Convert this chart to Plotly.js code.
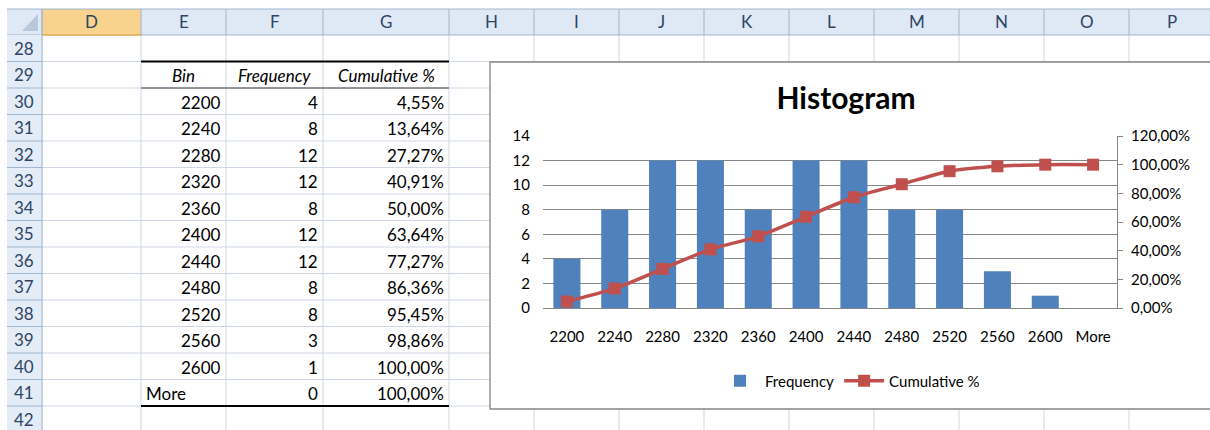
<!DOCTYPE html>
<html>
<head>
<meta charset="utf-8">
<script src="https://cdn.plot.ly/plotly-3.0.1.min.js"></script>
<style>html,body{margin:0;padding:0;background:#fff;}#chart{width:1210px;height:430px;}</style>
</head>
<body>
<div id="chart"></div>
<script>
// ---- data ----
const bins = ['2200','2240','2280','2320','2360','2400','2440','2480','2520','2560','2600','More'];
const frequency = [4, 8, 12, 12, 8, 12, 12, 8, 8, 3, 1, 0];
const cumulative = [0.0455, 0.1364, 0.2727, 0.4091, 0.5000, 0.6364, 0.7727, 0.8636, 0.9545, 0.9886, 1.0000, 1.0000];
const columnLetters = ['D','E','F','G','H','I','J','K','L','M','N','O','P'];
const rowNumbers = ['28','29','30','31','32','33','34','35','36','37','38','39','40','41','42'];
const tableHeaders = ['Bin','Frequency','Cumulative %'];
const chartTitle = 'Histogram';

// ---- geometry helpers (pixels -> paper) ----
const W = 1210, H = 430;
const X = px => px / W;
const Y = py => 1 - py / H;
const colEdges = [42,141,226,323,449,534,619,704,789,874,959,1044,1129,1214];
const rowTop = 35, rowH = 26.5, headTop = 9, leftEdge = 7;
const rowEdge = k => rowTop + k * rowH;
const FONT = 'Lato, "Open Sans", sans-serif';

const shapes = [];
const annotations = [];
function rect(x0,y0,x1,y1,fill,lineColor,lw){
  shapes.push({type:'rect',xref:'paper',yref:'paper',x0:X(x0),x1:X(x1),y0:Y(y1),y1:Y(y0),
    fillcolor:fill,line:{color:lineColor||'rgba(0,0,0,0)',width:lw||0},layer:'below'});
}
function line(x0,y0,x1,y1,color,w){
  shapes.push({type:'line',xref:'paper',yref:'paper',x0:X(x0),x1:X(x1),y0:Y(y0),y1:Y(y1),
    line:{color:color,width:w},layer:'below'});
}
function text(t,x,y,anchor,opts){
  opts = opts || {};
  annotations.push({text:t,xref:'paper',yref:'paper',x:X(x),y:Y(y),xanchor:anchor,yanchor:'middle',
    showarrow:false,font:{family:FONT,size:opts.size||17,color:opts.color||'#000'}});
}

// cell gridlines
for (let i = 0; i < colEdges.length; i++) line(colEdges[i], rowTop, colEdges[i], H, '#D0D7E5', 1);
for (let k = 1; k <= rowNumbers.length; k++) line(colEdges[0], rowEdge(k), W, rowEdge(k), '#D0D7E5', 1);

// header band
rect(leftEdge, headTop, W, rowTop, '#DFE8F5');
rect(colEdges[0], headTop, colEdges[1], rowTop, '#F9D38E');
line(leftEdge, headTop, W, headTop, '#9EB6CE', 1);
line(leftEdge, rowTop, W, rowTop, '#9EB6CE', 1);
line(colEdges[0], rowTop, colEdges[1], rowTop, '#F2B24E', 1.5);
for (let i = 0; i < colEdges.length; i++) line(colEdges[i], headTop, colEdges[i], rowTop, '#9EB6CE', 1);
// corner triangle
shapes.push({type:'path',xref:'paper',yref:'paper',
  path:`M ${X(38)} ${Y(31)} L ${X(38)} ${Y(14)} L ${X(22)} ${Y(31)} Z`,
  fillcolor:'#B9C7DA',line:{width:0},layer:'below'});
// row header column
rect(leftEdge, rowTop, colEdges[0], H, '#E4ECF7');
line(colEdges[0], headTop, colEdges[0], H, '#9EB6CE', 1);
for (let k = 1; k <= rowNumbers.length; k++) line(leftEdge, rowEdge(k), colEdges[0], rowEdge(k), '#9EB6CE', 1);

// chart area box
rect(490, 62, 1220, 409, '#FFFFFF', '#868686', 1.3);

// table borders
line(colEdges[1], rowEdge(1), colEdges[4], rowEdge(1), '#000', 2);
line(colEdges[1], rowEdge(2), colEdges[4], rowEdge(2), '#404040', 1.2);
line(colEdges[1], rowEdge(14), colEdges[4], rowEdge(14), '#000', 2);

// header texts
columnLetters.forEach((c,i) => text(c, (colEdges[i]+colEdges[i+1])/2, (headTop+rowTop)/2, 'center', {color:'#2E4465'}));
rowNumbers.forEach((r,k) => text(r, 24, rowEdge(k)+rowH/2, 'center', {color:'#2E4465'}));

// table contents
tableHeaders.forEach((h,i) => text('<i>'+h+'</i>', (colEdges[i+1]+colEdges[i+2])/2, rowEdge(1)+rowH/2+1, 'center'));
const fmtPct = v => (v*100).toFixed(2).replace('.', ',') + '%';
bins.forEach((b,k) => {
  const yc = rowEdge(k+2) + rowH/2 + 1;
  if (isNaN(Number(b))) text(b, colEdges[1]+3, yc, 'left');
  else text(b, colEdges[2]-3, yc, 'right');
  text(String(frequency[k]), colEdges[3]-3, yc, 'right');
  text(fmtPct(cumulative[k]), colEdges[4]-3, yc, 'right');
});

const traces = [
  {type:'bar', name:'Frequency', x:bins, y:frequency, marker:{color:'#4F81BD'}, xaxis:'x', yaxis:'y'},
  {type:'scatter', mode:'lines+markers', name:'Cumulative %', x:bins, y:cumulative, xaxis:'x', yaxis:'y2',
   line:{color:'#C0504D', width:3.5, shape:'spline', smoothing:0.8},
   marker:{symbol:'square', size:12, color:'#C0504D'}}
];

const layout = {
  width:W, height:H, autosize:false,
  margin:{l:0,r:0,t:0,b:0,pad:0},
  paper_bgcolor:'#FFFFFF', plot_bgcolor:'rgba(0,0,0,0)',
  separators:',.',
  font:{family:FONT, size:15, color:'#000'},
  title:{text:'<b>'+chartTitle+'</b>', font:{family:FONT, size:30, color:'#000'},
    xref:'container', yref:'container', x:X(846), y:Y(98), xanchor:'center', yanchor:'middle'},
  bargap:0.435,
  showlegend:true,
  legend:{orientation:'h', x:X(850), y:Y(381), xanchor:'center', yanchor:'middle',
    font:{family:FONT, size:15, color:'#000'}, bgcolor:'rgba(0,0,0,0)', itemwidth:40},
  xaxis:{domain:[X(543), X(1117)], type:'category', range:[-0.5, 11.5], showgrid:false,
    showline:true, linecolor:'#868686', linewidth:1, ticks:'', ticklabelstandoff:15,
    tickfont:{family:FONT, size:15, color:'#000'}, fixedrange:true},
  yaxis:{domain:[Y(308), Y(136)], range:[0,14], dtick:2, tick0:0, showgrid:true, gridcolor:'#868686',
    gridwidth:1, zeroline:false, showline:false, ticks:'', ticklabelstandoff:12,
    tickfont:{family:FONT, size:15, color:'#000'}, fixedrange:true},
  yaxis2:{overlaying:'y', side:'right', range:[0,1.2], dtick:0.2, tick0:0, tickformat:'.2%',
    showgrid:false, zeroline:false, showline:true, linecolor:'#868686', linewidth:1,
    ticks:'outside', ticklen:5, tickcolor:'#868686', ticklabelstandoff:5,
    tickfont:{family:FONT, size:15, color:'#000'}, fixedrange:true},
  shapes:shapes,
  annotations:annotations
};

Plotly.newPlot('chart', traces, layout, {staticPlot:true, displayModeBar:false});
</script>
</body>
</html>
